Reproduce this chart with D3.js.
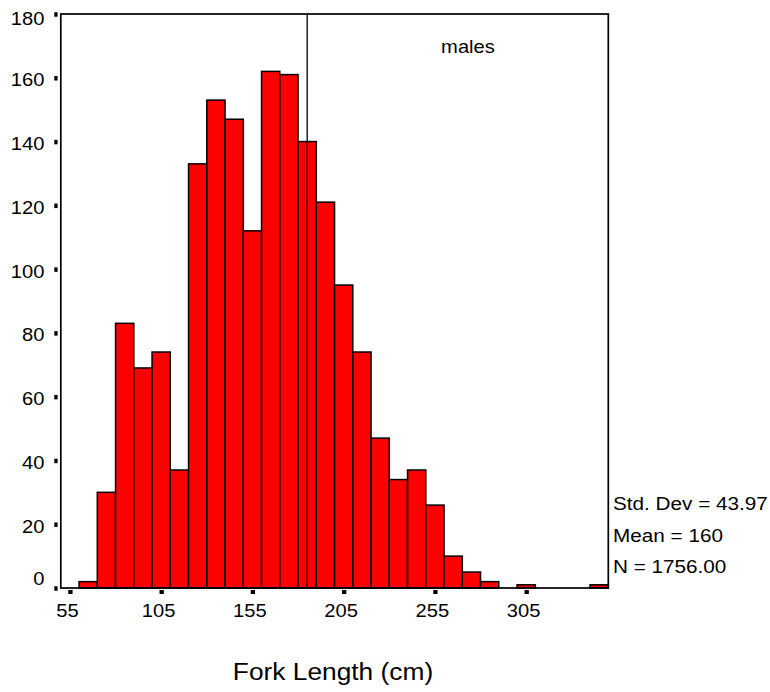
<!DOCTYPE html>
<html>
<head>
<meta charset="utf-8">
<script src="https://cdnjs.cloudflare.com/ajax/libs/d3/7.8.5/d3.min.js"></script>
<style>
  html, body { margin: 0; padding: 0; background: #fff; }
  text { font-family: "Liberation Sans", Arial, sans-serif; fill: #000; }
</style>
</head>
<body>
<svg id="chart" width="770" height="692"></svg>
<script>
// bin lower edges (cm), width 10
var binStarts = [60, 70, 80, 90, 100, 110, 120, 130, 140, 150, 160, 170, 180, 190, 200,
                 210, 220, 230, 240, 250, 260, 270, 280, 290, 300, 310, 320, 330, 340];
var counts    = [2, 30, 83, 69, 74, 37, 133, 153, 147, 112, 162, 161, 140, 121, 95,
                 74, 47, 34, 37, 26, 10, 5, 2, 0, 1, 0, 0, 0, 1];
var binWidth = 10;
var xTicks = [55, 105, 155, 205, 255, 305];
var yTicks = [0, 20, 40, 60, 80, 100, 120, 140, 160, 180];
var refLine = 185;
var statsLines = ["Std. Dev = 43.97", "Mean = 160", "N = 1756.00"];
var panelLabel = "males";
var xTitle = "Fork Length (cm)";

(function() {
  var svg = d3.select("#chart");
  // note: "top" is taken by window.top, so use plot* names
  var plotL = 60.8, plotR = 608.3, plotT = 14, plotB = 588;
  var stretch = 1.12;

  var x = d3.scaleLinear().domain([50, 350]).range([plotL, plotR]);
  var y = d3.scaleLinear().domain([0, 180]).range([plotB, plotT]);

  // text drawn slightly wide, like the original output
  function label(px, py, str, size, anchor) {
    svg.append("g")
      .attr("transform", "translate(" + px + "," + py + ") scale(" + stretch + ",1)")
      .append("text")
      .attr("font-size", size)
      .attr("text-anchor", anchor || "start")
      .text(str);
  }

  var bins = binStarts.map(function(s, i) { return {x0: s, x1: s + binWidth, n: counts[i]}; })
    .filter(function(d) { return d.n > 0; });

  svg.append("g").selectAll("rect")
    .data(bins)
    .enter().append("rect")
    .attr("x", function(d) { return x(d.x0); })
    .attr("width", function(d) { return x(d.x1) - x(d.x0); })
    .attr("y", function(d) { return y(d.n); })
    .attr("height", function(d) { return y(0) - y(d.n); })
    .attr("fill", "#ff0000")
    .attr("stroke", "#000")
    .attr("stroke-width", 1.5);

  // reference line
  svg.append("line")
    .attr("x1", x(refLine)).attr("x2", x(refLine))
    .attr("y1", plotT).attr("y2", plotB)
    .attr("stroke", "#000").attr("stroke-width", 1.3);

  // frame
  svg.append("rect")
    .attr("x", plotL).attr("y", plotT)
    .attr("width", plotR - plotL).attr("height", plotB - plotT)
    .attr("fill", "none").attr("stroke", "#000").attr("stroke-width", 1.7);

  // y ticks (square marks)
  var yAxis = svg.append("g")
    .attr("transform", "translate(57.6,0)")
    .call(d3.axisLeft(y).tickValues(yTicks).tickSize(3.3).tickFormat(""));
  yAxis.select(".domain").remove();
  yAxis.selectAll(".tick line").attr("stroke-width", 4.5);

  yTicks.forEach(function(v) {
    var cy = Math.max(18.7, Math.min(578.7, y(v) + 2));
    label(44.5, cy + 6.4, String(v), 18, "end");
  });

  // x ticks
  var xAxis = svg.append("g")
    .attr("transform", "translate(0," + (plotB + 2) + ")")
    .call(d3.axisBottom(x).tickValues(xTicks).tickSize(4).tickFormat(""));
  xAxis.select(".domain").remove();
  xAxis.selectAll(".tick line").attr("stroke-width", 4.3);

  xTicks.forEach(function(v) {
    label(x(v) - 2.5, 616.5, String(v), 18, "middle");
  });

  label(468, 53.3, panelLabel, 18, "middle");

  statsLines.forEach(function(s, i) {
    label(613, 510 + i * 31.7, s, 18.5, "start");
  });

  label(333, 680, xTitle, 23.5, "middle");
})();
</script>
</body>
</html>
